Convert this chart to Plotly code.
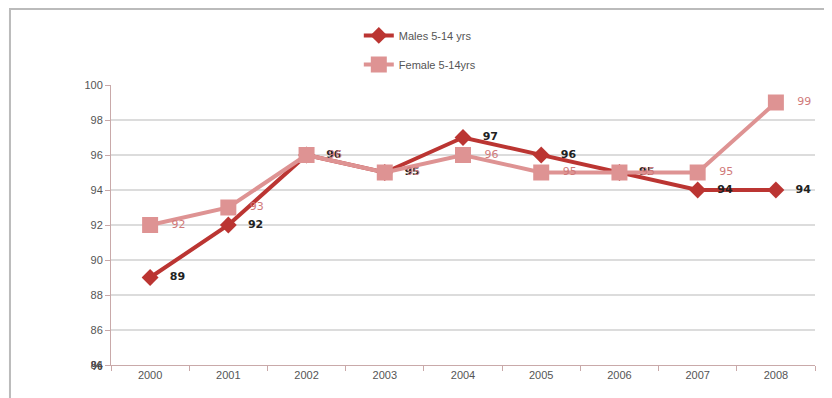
import plotly.graph_objects as go

years = ["2000", "2001", "2002", "2003", "2004", "2005", "2006", "2007", "2008"]
males = [89, 92, 96, 95, 97, 96, 95, 94, 94]
females = [92, 93, 96, 95, 96, 95, 95, 95, 99]
y_ticks = [84, 86, 88, 90, 92, 94, 96, 98, 100]
y_tick_labels = ["84", "86", "88", "90", "92", "94", "96", "98", "100"]

male_color = "#bb3532"
female_color = "#de9393"

fig = go.Figure()
fig.add_trace(go.Scatter(
    x=years, y=males, name="Males 5-14 yrs", mode="lines+markers+text",
    line=dict(color=male_color, width=4),
    marker=dict(symbol="diamond", size=13, color=male_color),
    text=["   <b>" + str(v) + "</b>" for v in males], textposition="middle right",
    textfont=dict(color="#222222", size=11, family="DejaVu Sans"),
    legendgroup="m", legendrank=1,
))
fig.add_trace(go.Scatter(
    x=years, y=females, name="Female 5-14yrs", mode="lines+markers+text",
    line=dict(color=female_color, width=4),
    marker=dict(symbol="square", size=16, color=female_color),
    text=["   " + str(v) for v in females], textposition="middle right",
    textfont=dict(color="#d07a7a", size=11, family="DejaVu Sans"),
    legendgroup="f", legendrank=2,
))

fig.update_layout(
    width=824, height=390,
    margin=dict(l=103, r=17, t=77, b=33, autoexpand=False),
    paper_bgcolor="white", plot_bgcolor="white",
    font=dict(family="Liberation Sans", color="#555555", size=11),
    showlegend=True,
    legend=dict(x=0.352, y=1.229, xanchor="left", yanchor="top",
                traceorder="grouped", tracegroupgap=10,
                font=dict(size=11, color="#555555"), bgcolor="rgba(0,0,0,0)"),
    xaxis=dict(type="category", range=[-0.5, 8.5], showgrid=False, showline=True,
               linecolor="#c9a9a9", ticks="outside", tickson="boundaries", ticklen=5,
               tickcolor="#c9a9a9", tickfont=dict(size=11, color="#555555")),
    yaxis=dict(range=[84, 100], tickvals=y_ticks, ticktext=y_tick_labels,
               showgrid=True, gridcolor="#dcdcdc", gridwidth=1.5,
               showline=True, linecolor="#c9a9a9", ticks="outside", ticklen=5,
               tickcolor="#c9a9a9", tickfont=dict(size=11, color="#555555"),
               zeroline=False),
    shapes=[dict(type="rect", xref="paper", yref="paper",
                 x0=-0.1435, x1=1.2, y0=-0.3, y1=1.271,
                 line=dict(color="#bbbbbb", width=2), fillcolor="rgba(0,0,0,0)")],
    annotations=[dict(xref="paper", yref="y", x=0, y=84, xanchor="right",
                      xshift=-6, text="<b>%</b>", showarrow=False,
                      font=dict(size=13, color="#444444"))],
)

fig.write_html("out.html")
